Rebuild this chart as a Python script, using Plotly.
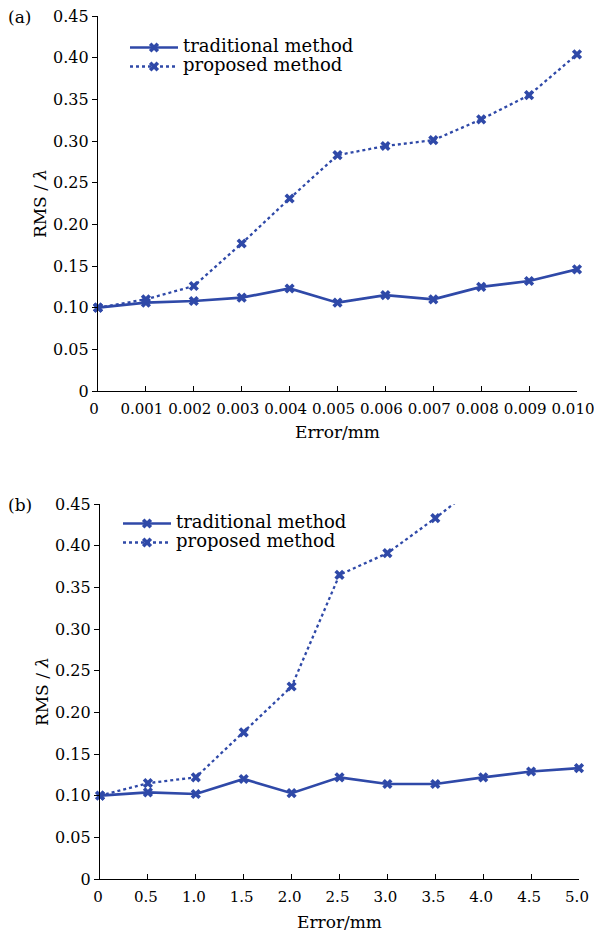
import plotly.graph_objects as go

# ---- data ----
error_a = [0, 0.001, 0.002, 0.003, 0.004, 0.005, 0.006, 0.007, 0.008, 0.009, 0.010]
trad_a = [0.100, 0.106, 0.108, 0.112, 0.123, 0.106, 0.115, 0.110, 0.125, 0.132, 0.146]
prop_a = [0.100, 0.110, 0.126, 0.177, 0.231, 0.283, 0.294, 0.301, 0.326, 0.355, 0.404]

error_b = [0, 0.5, 1.0, 1.5, 2.0, 2.5, 3.0, 3.5, 4.0, 4.5, 5.0]
trad_b = [0.100, 0.104, 0.102, 0.120, 0.103, 0.122, 0.114, 0.114, 0.122, 0.129, 0.133]
error_b_prop = [0, 0.5, 1.0, 1.5, 2.0, 2.5, 3.0, 3.5, 4.0]
prop_b = [0.100, 0.115, 0.122, 0.176, 0.231, 0.365, 0.391, 0.433, 0.478]

series_names = ["traditional method", "proposed method"]

y_ticks = [0, 0.05, 0.10, 0.15, 0.20, 0.25, 0.30, 0.35, 0.40, 0.45]
y_ticktext = ["0", "0.05", "0.10", "0.15", "0.20", "0.25", "0.30", "0.35", "0.40", "0.45"]
x_ticktext_a = ["0", "0.001", "0.002", "0.003", "0.004", "0.005", "0.006", "0.007", "0.008", "0.009", "0.010"]
x_ticktext_b = ["0", "0.5", "1.0", "1.5", "2.0", "2.5", "3.0", "3.5", "4.0", "4.5", "5.0"]

BLUE = "#2f49a8"
FONT = "DejaVu Serif"
W, H = 594, 933

fig = go.Figure()

def add(x, y, name, dash, xa, ya, legend, clip=False):
    fig.add_trace(go.Scatter(
        x=x, y=y, name='<span style="font-size:18px">' + name + "</span>",
        mode="lines+markers",
        line=dict(color=BLUE, width=2.7 if dash == "solid" else 2.3, dash=dash),
        marker=dict(symbol="x", size=9, color=BLUE, line=dict(width=0)),
        xaxis=xa, yaxis=ya, legend=legend, cliponaxis=clip,
    ))

add(error_a, trad_a, series_names[0], "solid", "x", "y", "legend")
add(error_a, prop_a, series_names[1], "dot", "x", "y", "legend")
add(error_b, trad_b, series_names[0], "solid", "x2", "y2", "legend2")
add(error_b_prop, prop_b, series_names[1], "dot", "x2", "y2", "legend2", clip=True)

# helpers: page pixels -> paper fractions
def fx(px):
    return px / W

def fy(py):
    return 1 - py / H

def px_x(a, b):
    return [fx(a), fx(b)]

def px_y(top, bottom):
    return [fy(bottom), fy(top)]

xcommon = dict(showline=True, linecolor="black", linewidth=1.3, ticks="inside",
               ticklen=5, tickcolor="black", tickwidth=1.2, showgrid=False, zeroline=False,
               automargin=False, ticklabeloverflow="allow", ticklabelstandoff=4,
               tickfont=dict(family=FONT, size=15, color="black"))
ycommon = dict(showline=True, linecolor="black", linewidth=1.3, ticks="outside",
               ticklen=5, tickcolor="black", tickwidth=1.2, showgrid=False, zeroline=False,
               automargin=False, ticklabeloverflow="allow",
               tickvals=y_ticks, ticktext=y_ticktext, range=[0, 0.45],
               tickfont=dict(family=FONT, size=16, color="black"),
               title=dict(text="RMS / <i>λ</i>", font=dict(family=FONT, size=17, color="black"),
                          standoff=2))

def xtitle(standoff):
    return dict(text="Error/mm", font=dict(family=FONT, size=17, color="black"),
                standoff=standoff)

legend_common = dict(xanchor="left", yanchor="top", bgcolor="rgba(0,0,0,0)",
                     itemwidth=48, tracegroupgap=0,
                     font=dict(family=FONT, size=11, color="black"))

def label(text, xpx, ypx, size=17):
    return dict(text=text, x=fx(xpx - 1), y=fy(ypx), xref="paper", yref="paper",
                xanchor="left", yanchor="middle", showarrow=False,
                font=dict(family=FONT, size=size, color="black"))

fig.update_layout(
    width=W, height=H, margin=dict(l=0, r=0, t=0, b=0),
    paper_bgcolor="white", plot_bgcolor="white",
    xaxis=dict(xcommon, domain=px_x(98, 577), range=[0, 0.010], tickvals=error_a,
               ticktext=x_ticktext_a, ticklabelshift=-4, anchor="y", title=xtitle(8)),
    yaxis=dict(ycommon, domain=px_y(16, 391), anchor="x"),
    xaxis2=dict(xcommon, domain=px_x(100, 579), range=[0, 5.0], tickvals=error_b,
                ticktext=x_ticktext_b, ticklabelshift=-2, anchor="y2", title=xtitle(10)),
    yaxis2=dict(ycommon, domain=px_y(504, 879), anchor="x2"),
    legend=dict(legend_common, x=fx(125), y=fy(33)),
    legend2=dict(legend_common, x=fx(118), y=fy(509)),
    annotations=[
        label("(a)", 7, 17),
        label("(b)", 7, 505),
    ],
)

fig.write_html(
    "out.html",
    config={"displayModeBar": False},
    post_script="document.body.style.margin='0';document.body.style.overflow='hidden';",
)
